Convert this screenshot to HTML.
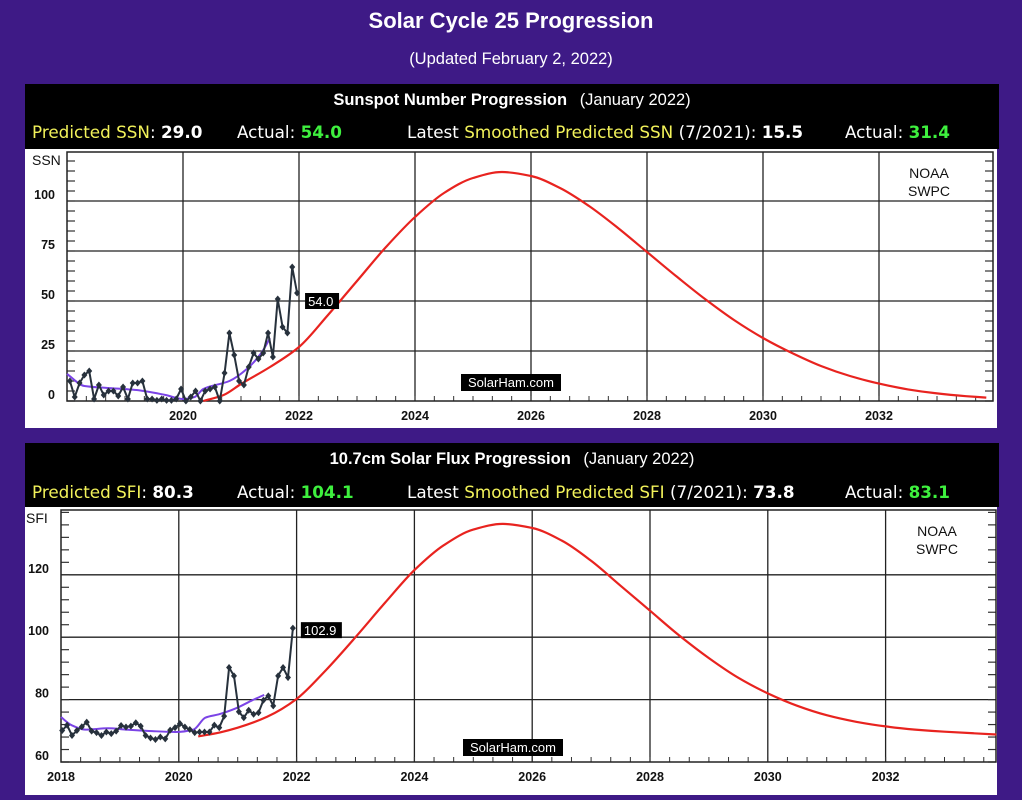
<!DOCTYPE html>
<html><head><meta charset="utf-8">
<style>
html,body{margin:0;padding:0;background:#3e1a86;}
svg{display:block;}
.hd{font-family:"DejaVu Sans","Liberation Sans",sans-serif;font-size:16.8px;}
.tt{font-family:"Liberation Sans",sans-serif;font-weight:bold;font-size:16.5px;fill:#fff;}
.ax{font-family:"Liberation Sans",sans-serif;font-weight:bold;font-size:12.5px;fill:#111;}
</style></head>
<body>
<svg id="chart" width="1022" height="800" xmlns="http://www.w3.org/2000/svg">
<rect x="0" y="0" width="1022" height="800" fill="#3e1a86"/>
<text x="511" y="28" text-anchor="middle" font-family="Liberation Sans,sans-serif" font-weight="bold" font-size="22" fill="#fff">Solar Cycle 25 Progression</text>
<text x="511" y="64" text-anchor="middle" font-family="Liberation Sans,sans-serif" font-size="16.5" fill="#fff">(Updated February 2, 2022)</text>

<rect x="25" y="84" width="974" height="65" fill="#000"/>
<text x="512" y="105" text-anchor="middle" class="tt">Sunspot Number Progression <tspan font-weight="normal" dx="8">(January 2022)</tspan></text>
<text x="32" y="138" class="hd"><tspan fill="#f2f25a">Predicted SSN</tspan><tspan fill="#fff">: </tspan><tspan fill="#fff" font-weight="bold">29.0</tspan></text>
<text x="237" y="138" class="hd"><tspan fill="#fff">Actual: </tspan><tspan fill="#3ef03e" font-weight="bold">54.0</tspan></text>
<text x="407" y="138" class="hd"><tspan fill="#fff">Latest </tspan><tspan fill="#f2f25a">Smoothed Predicted SSN</tspan><tspan fill="#fff"> (7/2021): </tspan><tspan fill="#fff" font-weight="bold">15.5</tspan></text>
<text x="845" y="138" class="hd"><tspan fill="#fff">Actual: </tspan><tspan fill="#3ef03e" font-weight="bold">31.4</tspan></text>
<rect x="25" y="149" width="972" height="279" fill="#fff"/>

<rect x="25" y="443" width="974" height="64" fill="#000"/>
<text x="512" y="464" text-anchor="middle" class="tt">10.7cm Solar Flux Progression <tspan font-weight="normal" dx="8">(January 2022)</tspan></text>
<text x="32" y="498" class="hd"><tspan fill="#f2f25a">Predicted SFI</tspan><tspan fill="#fff">: </tspan><tspan fill="#fff" font-weight="bold">80.3</tspan></text>
<text x="237" y="498" class="hd"><tspan fill="#fff">Actual: </tspan><tspan fill="#3ef03e" font-weight="bold">104.1</tspan></text>
<text x="407" y="498" class="hd"><tspan fill="#fff">Latest </tspan><tspan fill="#f2f25a">Smoothed Predicted SFI</tspan><tspan fill="#fff"> (7/2021): </tspan><tspan fill="#fff" font-weight="bold">73.8</tspan></text>
<text x="845" y="498" class="hd"><tspan fill="#fff">Actual: </tspan><tspan fill="#3ef03e" font-weight="bold">83.1</tspan></text>
<rect x="25" y="507" width="972" height="288" fill="#fff"/>
<g id="layer"></g>
</svg>
<script>
// ---- SSN data ----
const ssnMonthly = [10,2,9,13,15,1,8,3,5,5,2.5,7,1,9,9,10,1,1,0.3,1,0.3,0.3,1,6,0,2,5,0,5,6,7,0,14,34,23,10,8,17,24,21,24,34,22,51,37,34,67,54];
const ssnSmoothYears = [2018.0,2018.3,2018.7,2019.2,2019.7,2020.0,2020.2,2020.35,2020.8,2021.1,2021.35,2021.5];
const ssnSmoothVals = [13.5,7.5,6.5,5.5,3,1,2,6,10,16,24,31.4];
const ssnPredYears = [2020.35,2020.7,2021,2021.5,2022,2022.5,2023,2023.5,2024,2024.5,2025,2025.5,2026,2026.5,2027,2027.5,2028,2028.5,2029,2029.5,2030,2030.5,2031,2031.5,2032,2032.5,2033,2033.5,2033.85];
const ssnPredVals = [0,3,8.5,17,27,43,60,77,92,104,111.5,114.5,112.5,106.5,97.5,86.5,74.5,62.5,51,40.5,31.5,24,17.5,12.5,8.7,5.8,3.8,2.4,1.7];
const ssnYTicks = [0,25,50,75,100];
// ---- SFI data ----
const sfiMonthly = [70.1,71.8,68.5,70.1,71.3,72.8,69.9,69.4,68.5,69.6,69.1,69.9,71.7,71.2,71.5,72.6,71.5,68.5,67.7,67.2,68,67.4,70.2,71,72.3,71.2,70.4,69.4,69.6,69.6,69.6,71.8,71,74.7,90.3,87.6,76.1,74.2,76.6,75.3,75.8,79.8,81.2,78,87.6,90.3,87.1,102.9];
const sfiSmoothYears = [2018.0,2018.18,2018.41,2018.8,2019.1,2019.55,2019.94,2020.25,2020.45,2020.68,2020.97,2021.25,2021.45];
const sfiSmoothVals = [74.4,71.8,70.4,70.8,70.4,69.9,69.6,70.4,74.2,75.3,77.2,79.8,81.5];
const sfiPredYears = [2020.33,2020.7,2021,2021.5,2022,2022.5,2023,2023.5,2024,2024.5,2025,2025.5,2026,2026.5,2027,2027.5,2028,2028.5,2029,2029.5,2030,2030.5,2031,2031.5,2032,2032.5,2033,2033.5,2033.88];
const sfiPredVals = [68.2,69.5,71,74.5,80.2,89.5,100,111,121.5,129.5,134.5,136.3,135,131,124.5,116.5,108.5,100.5,93.3,87,82,78,75,72.9,71.4,70.4,69.7,69.2,68.8];
const sfiYTicks = [60,80,100,120];
const yearTicks = [2020,2022,2024,2026,2028,2030,2032];

const NS='http://www.w3.org/2000/svg';
const layer=document.getElementById('layer');
function mk(tag,attrs,parent){const e=document.createElementNS(NS,tag);for(const k in attrs)e.setAttribute(k,attrs[k]);(parent||layer).appendChild(e);return e;}
// monotone cubic (Fritsch-Carlson) path
function smooth(p){const n=p.length;const dx=[],s=[],m=[];
 for(let i=0;i<n-1;i++){dx[i]=p[i+1][0]-p[i][0];s[i]=(p[i+1][1]-p[i][1])/dx[i];}
 m[0]=s[0];m[n-1]=s[n-2];
 for(let i=1;i<n-1;i++){if(s[i-1]*s[i]<=0)m[i]=0;else{const w1=2*dx[i]+dx[i-1],w2=dx[i]+2*dx[i-1];m[i]=(w1+w2)/(w1/s[i-1]+w2/s[i]);}}
 let d='M'+p[0][0].toFixed(1)+','+p[0][1].toFixed(1);
 for(let i=0;i<n-1;i++){const h=dx[i]/3;
  d+=' C'+(p[i][0]+h).toFixed(1)+','+(p[i][1]+m[i]*h).toFixed(1)+' '+(p[i+1][0]-h).toFixed(1)+','+(p[i+1][1]-m[i+1]*h).toFixed(1)+' '+p[i+1][0].toFixed(1)+','+p[i+1][1].toFixed(1);}
 return d;}

function drawChart(c){
 const xs=y=>c.x0+(y-2018)*c.yr;
 const ys=v=>c.yb-(v-c.vmin)*c.pu;
 const g=mk('g',{});
 
 
 yearTicks.forEach(t=>{const l=mk('line',{x1:xs(t),x2:xs(t),y1:c.yt,y2:c.yb,stroke:'#222','stroke-width':1.3},g);
  
  const tx=mk('text',{x:xs(t),y:c.yb+19,'text-anchor':'middle',class:'ax'},g);tx.textContent=t;
  });
 if(c.show2018){const tx=mk('text',{x:c.x0,y:c.yb+19,'text-anchor':'middle',class:'ax'},g);tx.textContent='2018';
  }
 c.yticks.forEach(t=>{ if(t!==c.vmin){const l=mk('line',{x1:c.x0,x2:c.x1,y1:ys(t),y2:ys(t),stroke:'#222','stroke-width':1.3},g);
  }
  const tx=mk('text',{x:c.x0-12,y:ys(t)-2,'text-anchor':'end',class:'ax'},g);tx.textContent=t;
  });
 for(let v=c.vmin;v<=c.vmax;v+=c.minor){const y=ys(v);mk('line',{x1:c.x0,x2:c.x0+8,y1:y,y2:y,stroke:'#333','stroke-width':1.2},g);mk('line',{x1:c.x1-8,x2:c.x1,y1:y,y2:y,stroke:'#333','stroke-width':1.2},g);}
 for(let m=0;2018+m/3<=c.yend;m++){const x=xs(2018+m/3);mk('line',{x1:x,x2:x,y1:c.yb-5,y2:c.yb,stroke:'#333','stroke-width':1},g);}
 const fr=mk('rect',{x:c.x0,y:c.yt,width:c.x1-c.x0,height:c.yb-c.yt,fill:'none',stroke:'#222','stroke-width':1.5},g);
 
 const yl=mk('text',{x:c.x0-35,y:c.yt+13,'font-family':'Liberation Sans,sans-serif','font-size':14,fill:'#111'},g);yl.textContent=c.ylabel;
 
 const pr=mk('path',{d:smooth(c.predY.map((y,i)=>[xs(y),ys(c.predV[i])])),fill:'none',stroke:'#e8231f','stroke-width':2.2},g);
 
 const sm=mk('path',{d:smooth(c.smY.map((y,i)=>[xs(y),ys(c.smV[i])])),fill:'none',stroke:'#7b44e6','stroke-width':2},g);
 
 const pts=c.monthly.map((v,i)=>[xs(c.m0+i/12),ys(v)]);
 const ml=mk('polyline',{points:pts.map(p=>p[0].toFixed(1)+','+p[1].toFixed(1)).join(' '),fill:'none',stroke:'#27313c','stroke-width':2},g);
 
 pts.forEach((p,i)=>{const d=mk('path',{d:`M${p[0]},${p[1]-3.5} L${p[0]+3},${p[1]} L${p[0]},${p[1]+3.5} L${p[0]-3},${p[1]} Z`,fill:'#27313c'},g);
  });
 const last=pts[pts.length-1];const lv=c.monthly[c.monthly.length-1].toFixed(1);
 const lw=lv.length*7+6;
 const lb=mk('rect',{x:last[0]+8,y:last[1]+c.lblDy-8,width:lw,height:16,fill:'#000'},g);
 
 const lt=mk('text',{x:last[0]+11,y:last[1]+c.lblDy+5,'font-family':'Liberation Sans,sans-serif','font-size':13,fill:'#fff'},g);lt.textContent=lv;
 
 const wb=mk('rect',{x:c.wmx,y:c.wmy,width:100,height:17,fill:'#000'},g);
 
 const wt=mk('text',{x:c.wmx+50,y:c.wmy+13,'text-anchor':'middle','font-family':'Liberation Sans,sans-serif','font-size':13,fill:'#fff'},g);wt.textContent='SolarHam.com';
 
 const n1=mk('text',{x:c.noaax,y:c.yt+26,'text-anchor':'middle','font-family':'Liberation Sans,sans-serif','font-size':14,fill:'#111'},g);n1.textContent='NOAA';
 
 const n2=mk('text',{x:c.noaax,y:c.yt+44,'text-anchor':'middle','font-family':'Liberation Sans,sans-serif','font-size':14,fill:'#111'},g);n2.textContent='SWPC';
 
}
drawChart({name:'ssn',x0:67,x1:993,yr:58,yt:152,yb:401,vmin:0,vmax:124,pu:2,minor:5,yend:2033.8,yticks:ssnYTicks,ylabel:'SSN',
 predY:ssnPredYears,predV:ssnPredVals,smY:ssnSmoothYears,smV:ssnSmoothVals,monthly:ssnMonthly,m0:2018.05,lblDy:8,wmx:461,wmy:374,noaax:929,show2018:false});
drawChart({name:'sfi',x0:61,x1:996,yr:58.9,yt:510,yb:762,vmin:60,vmax:141,pu:3.12,minor:4,yend:2033.85,yticks:sfiYTicks,ylabel:'SFI',
 predY:sfiPredYears,predV:sfiPredVals,smY:sfiSmoothYears,smV:sfiSmoothVals,monthly:sfiMonthly,m0:2018.02,lblDy:2,wmx:463,wmy:739,noaax:937,show2018:true});
</script>
</body></html>
